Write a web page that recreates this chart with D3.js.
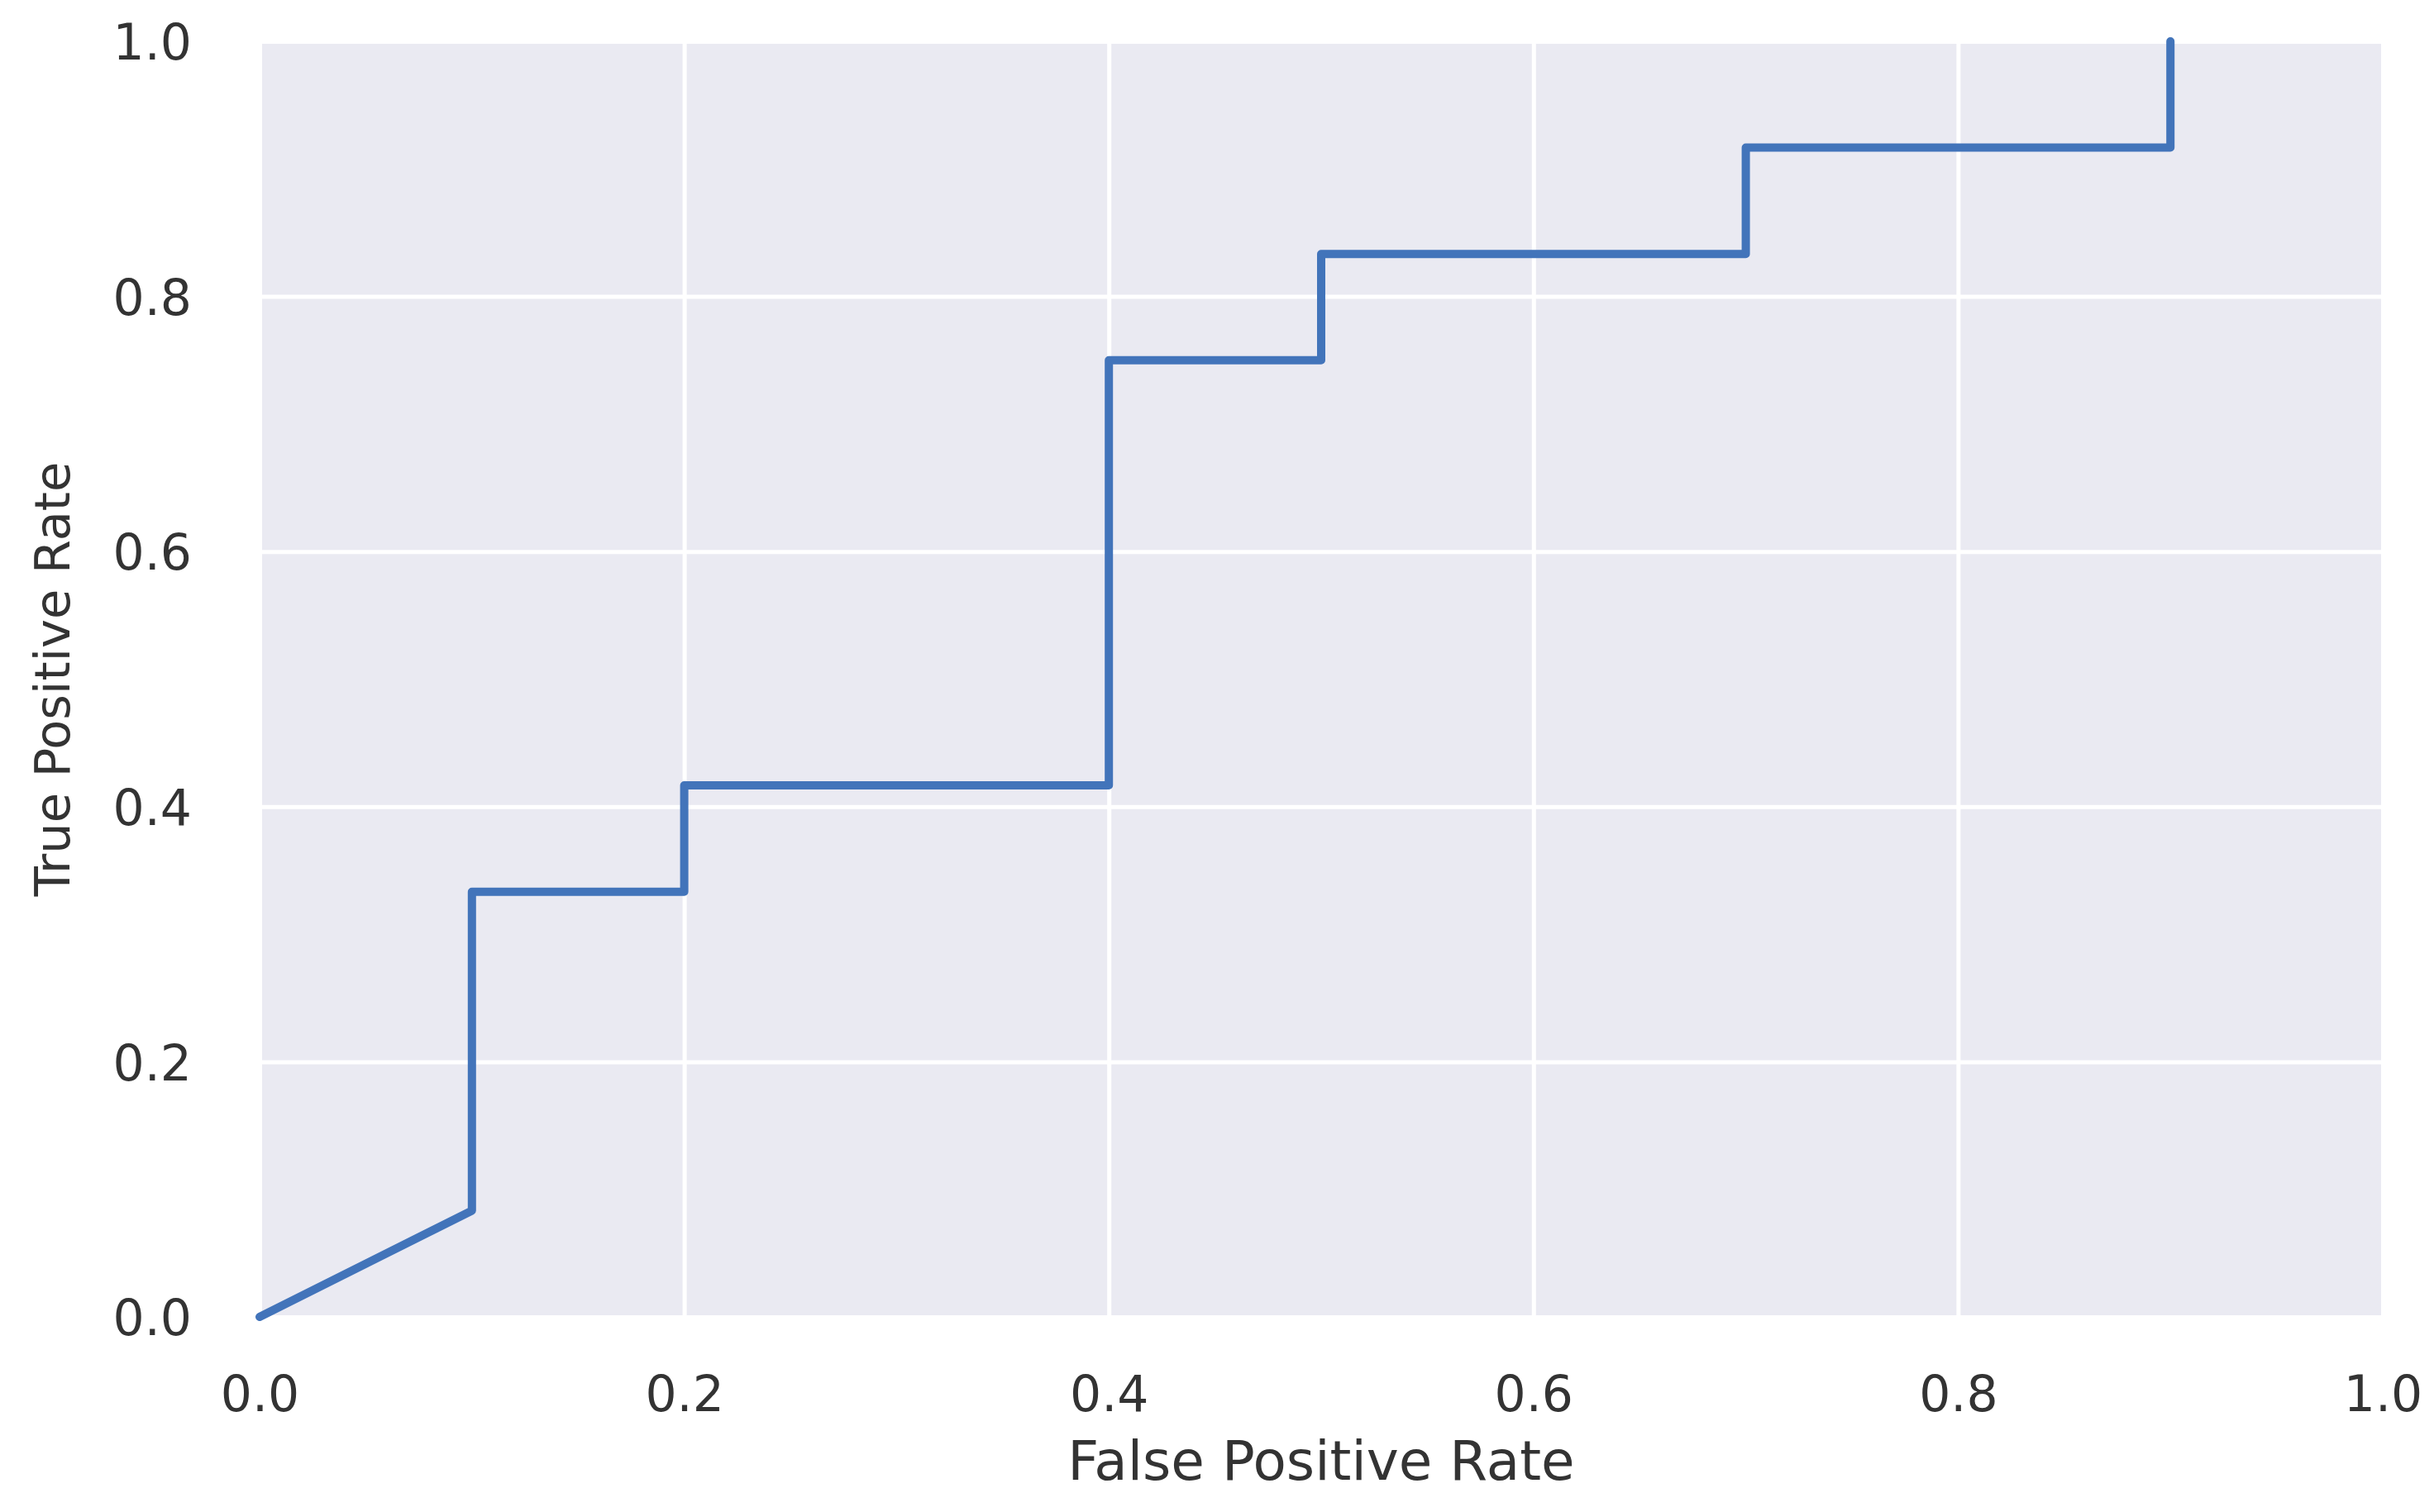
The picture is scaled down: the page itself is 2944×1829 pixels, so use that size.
<!DOCTYPE html>
<html>
<head>
<meta charset="utf-8">
<script src="https://cdn.jsdelivr.net/npm/d3@7"></script>
<style>
  html, body { margin: 0; padding: 0; background: #ffffff; }
  svg { display: block; }
  text { font-family: "DejaVu Sans", sans-serif; fill: #333333; }
</style>
</head>
<body>
<svg id="chart" width="2944" height="1829"></svg>
<script>
// ROC curve data (False Positive Rate, True Positive Rate)
const fpr = [0.0, 0.1, 0.1, 0.2, 0.2, 0.4, 0.4, 0.5, 0.5, 0.7, 0.7, 0.9, 0.9];
const tpr = [0.0, 1/12, 4/12, 4/12, 5/12, 5/12, 9/12, 9/12, 10/12, 10/12, 11/12, 11/12, 1.0];
const xTicks = [0.0, 0.2, 0.4, 0.6, 0.8, 1.0];
const yTicks = [0.0, 0.2, 0.4, 0.6, 0.8, 1.0];
const xLabel = "False Positive Rate";
const yLabel = "True Positive Rate";

const W = 2944, H = 1829;
const margin = { left: 314, right: 62, top: 50, bottom: 236 };
const innerW = W - margin.left - margin.right;
const innerH = H - margin.top - margin.bottom;

const svg = d3.select("#chart");
const g = svg.append("g").attr("transform", `translate(${margin.left},${margin.top})`);

const x = d3.scaleLinear().domain([0, 1]).range([0, innerW]);
const y = d3.scaleLinear().domain([0, 1]).range([innerH, 0]);

// background
g.append("rect")
  .attr("x", 0).attr("y", 0)
  .attr("width", innerW).attr("height", innerH)
  .attr("fill", "#eaeaf2");

// grid lines
g.append("g")
  .attr("transform", `translate(0,${innerH})`)
  .call(d3.axisBottom(x).tickValues(xTicks).tickSize(-innerH).tickFormat(""))
  .call(s => s.select(".domain").remove())
  .call(s => s.selectAll("line").attr("stroke", "#ffffff").attr("stroke-width", 5));

g.append("g")
  .call(d3.axisLeft(y).tickValues(yTicks).tickSize(-innerW).tickFormat(""))
  .call(s => s.select(".domain").remove())
  .call(s => s.selectAll("line").attr("stroke", "#ffffff").attr("stroke-width", 5));

// tick labels
const xAxis = g.append("g")
  .attr("transform", `translate(0,${innerH})`)
  .call(d3.axisBottom(x).tickValues(xTicks).tickSize(0).tickPadding(114).tickFormat(d3.format(".1f")));
xAxis.select(".domain").remove();
xAxis.selectAll("text")
  .attr("font-size", 60)
  .attr("font-family", "DejaVu Sans, sans-serif")
  .attr("fill", "#333333")
  .attr("dy", "0");

const yAxis = g.append("g")
  .call(d3.axisLeft(y).tickValues(yTicks).tickSize(0).tickPadding(82).tickFormat(d3.format(".1f")));
yAxis.select(".domain").remove();
yAxis.selectAll("text")
  .attr("font-size", 60)
  .attr("font-family", "DejaVu Sans, sans-serif")
  .attr("fill", "#333333")
  .attr("dy", "0.36em");

// axis labels
svg.append("text")
  .attr("x", margin.left + innerW / 2)
  .attr("y", 1790)
  .attr("text-anchor", "middle")
  .attr("font-size", 66)
  .text(xLabel);

svg.append("text")
  .attr("transform", `translate(84,${margin.top + innerH / 2}) rotate(-90)`)
  .attr("text-anchor", "middle")
  .attr("font-size", 59)
  .text(yLabel);

// ROC line
const pts = fpr.map((v, i) => [v, tpr[i]]);
const line = d3.line().x(d => x(d[0])).y(d => y(d[1]));
g.append("path")
  .datum(pts)
  .attr("d", line)
  .attr("fill", "none")
  .attr("stroke", "#4274ba")
  .attr("stroke-width", 10)
  .attr("stroke-linejoin", "round")
  .attr("stroke-linecap", "round");
</script>
</body>
</html>
